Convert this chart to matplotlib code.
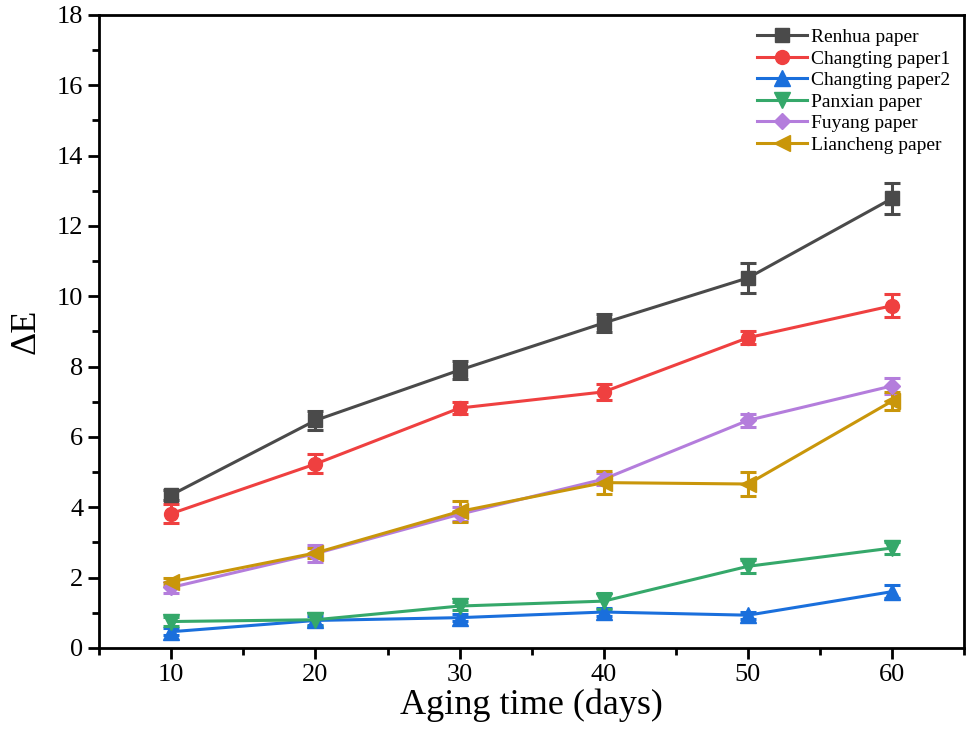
import matplotlib
import matplotlib.pyplot as plt
from matplotlib.lines import Line2D
from matplotlib.ticker import MultipleLocator

matplotlib.use("Agg")

plt.rcParams["font.family"] = ["Liberation Serif", "DejaVu Serif"]

# ---------------------------------------------------------------------------
# Data
# ---------------------------------------------------------------------------
days = [10, 20, 30, 40, 50, 60]

renhua = [4.35, 6.47, 7.90, 9.24, 10.52, 12.78]
renhua_err = [0.15, 0.27, 0.25, 0.25, 0.43, 0.43]

changting1 = [3.82, 5.23, 6.82, 7.28, 8.82, 9.73]
changting1_err = [0.27, 0.27, 0.18, 0.22, 0.18, 0.33]

changting2 = [0.46, 0.78, 0.86, 1.02, 0.93, 1.60]
changting2_err = [0.10, 0.12, 0.10, 0.12, 0.10, 0.18]

panxian = [0.75, 0.80, 1.19, 1.33, 2.32, 2.84]
panxian_err = [0.12, 0.18, 0.12, 0.22, 0.18, 0.18]

fuyang = [1.72, 2.68, 3.80, 4.80, 6.47, 7.45]
fuyang_err = [0.15, 0.25, 0.20, 0.18, 0.18, 0.22]

liancheng = [1.88, 2.70, 3.88, 4.70, 4.66, 7.02]
liancheng_err = [0.10, 0.15, 0.30, 0.33, 0.33, 0.25]

labels = [
    "Renhua paper",
    "Changting paper1",
    "Changting paper2",
    "Panxian paper",
    "Fuyang paper",
    "Liancheng paper",
]

SERIES = [
    (renhua, renhua_err, "#4a4a4a", "s"),
    (changting1, changting1_err, "#ef4040", "o"),
    (changting2, changting2_err, "#1a6fdc", "^"),
    (panxian, panxian_err, "#35a86a", "v"),
    (fuyang, fuyang_err, "#b47ddc", "D"),
    (liancheng, liancheng_err, "#c9960a", "<"),
]

# ---------------------------------------------------------------------------
# Plot
# ---------------------------------------------------------------------------
fig = plt.figure(figsize=(9.73, 7.43), dpi=100)
ax = fig.add_axes([0.102, 0.128, 0.889, 0.852])

handles = []
for (vals, err, color, marker), label in zip(SERIES, labels):
    ms = 10 if marker in ("s", "o") else 11
    if marker == "D":
        ms = 8.5
    ax.errorbar(
        days,
        vals,
        yerr=err,
        color=color,
        marker=marker,
        markersize=ms,
        linewidth=2.2,
        elinewidth=2.2,
        capsize=6,
        capthick=2.2,
    )
    # legend handle without the error bar glyph
    handles.append(
        Line2D([], [], color=color, marker=marker, markersize=ms,
               linewidth=2.2, label=label)
    )

ax.set_xlim(5, 65)
ax.set_ylim(0, 18)
ax.xaxis.set_major_locator(MultipleLocator(10))
ax.xaxis.set_minor_locator(MultipleLocator(5))
ax.yaxis.set_major_locator(MultipleLocator(2))
ax.yaxis.set_minor_locator(MultipleLocator(1))

ax.tick_params(which="major", direction="out", length=8, width=2, labelsize=19)
ax.tick_params(which="minor", direction="out", length=5, width=2)
for sp in ax.spines.values():
    sp.set_linewidth(2)

ax.set_xlabel("Aging time (days)", fontsize=26, labelpad=2)
ax.set_ylabel("ΔE", fontsize=26, labelpad=10)

ax.legend(
    handles=handles,
    loc="upper right",
    frameon=False,
    fontsize=14,
    handlelength=2.6,
    labelspacing=0.2,
    borderaxespad=0.3,
    handletextpad=0.2,
)

fig.savefig("out.png", dpi=100)
plt.close(fig)
